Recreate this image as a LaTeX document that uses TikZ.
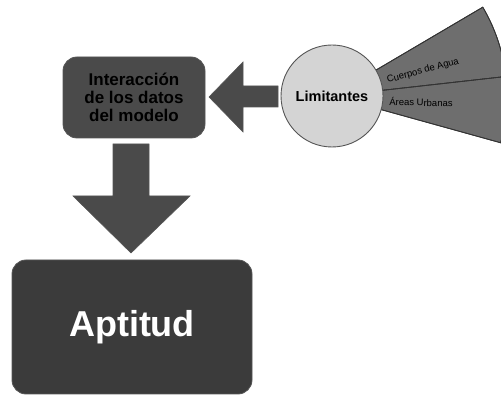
\documentclass[tikz,border=0pt]{standalone}
\usepackage{fontspec}
\setmainfont{Liberation Sans}
\definecolor{boxdark}{HTML}{3B3B3B}
\definecolor{boxmid}{HTML}{4A4A4A}
\definecolor{arrowgray}{HTML}{4A4A4A}
\definecolor{wedgegray}{HTML}{6E6E6E}
\definecolor{circgray}{HTML}{D4D4D4}
\definecolor{edgegray}{HTML}{555555}
\begin{document}
\begin{tikzpicture}[x=1pt,y=-1pt,
  roundbox/.style={rounded corners=14pt, draw=edgegray, line width=0.8pt},
  bigarrow/.style={fill=arrowgray, draw=edgegray, line width=0.6pt, line join=miter},
  wedge/.style={fill=wedgegray, draw=black!80, line width=0.8pt},
  smalltxt/.style={font=\fontsize{9.5}{11}\selectfont, text=black}]
\useasboundingbox (0,0) rectangle (501,395);
\begin{scope}
\clip (0,0) rectangle (501,395);
% wedges (pie sectors centred on the circle)
\coordinate (apex) at (332,96);
\fill[wedge] (apex) -- ++(-30.5:175) arc[start angle=-30.5, end angle=-6.4, radius=175] -- cycle;
\fill[wedge] (apex) -- ++(-6.4:175) arc[start angle=-6.4, end angle=15.5, radius=175] -- cycle;
\draw[black!80, line width=0.8pt] (apex) -- ++(-30.5:175) arc[start angle=-30.5, end angle=15.5, radius=175] -- cycle;
\draw[black!80, line width=0.8pt] (apex) -- ++(-6.4:175);
\end{scope}
% circle
\node[circle, fill=circgray, draw=edgegray, line width=0.9pt, minimum size=102pt, inner sep=0pt,
  font=\bfseries\fontsize{14.5}{16}\selectfont] (lim) at (332,96) {Limitantes};
\node[smalltxt, rotate=15] (agua) at (423,71) {Cuerpos de Agua};
\node[smalltxt, rotate=-1] (urb) at (421,102) {Áreas Urbanas};
% interaction box
\node[roundbox, fill=boxmid, minimum width=142pt, minimum height=81pt, align=center,
  font=\bfseries\fontsize{17}{18}\selectfont, text=black] (inter) at (134,97.5)
  {Interacción\\de los datos\\del modelo};
% aptitud box
\node[roundbox, fill=boxdark, minimum width=240pt, minimum height=134pt,
  font=\bfseries\fontsize{36}{40}\selectfont, text=white] (apt) at (132,327) {Aptitud};
% left arrow from circle to interaction box
\coordinate (la1) at (278,86);
\coordinate (la2) at (278,107);
\draw[bigarrow] (la1) -- (243,86) -- (243,62) -- (209,97) -- (243,132) -- (243,107) -- (la2) -- cycle;
% down arrow from interaction to aptitud
\draw[bigarrow] (113,144) -- (149,144) -- (149,196) -- (190,196) -- (131,253) -- (73,196) -- (113,196) -- cycle;
\end{tikzpicture}
\end{document}
